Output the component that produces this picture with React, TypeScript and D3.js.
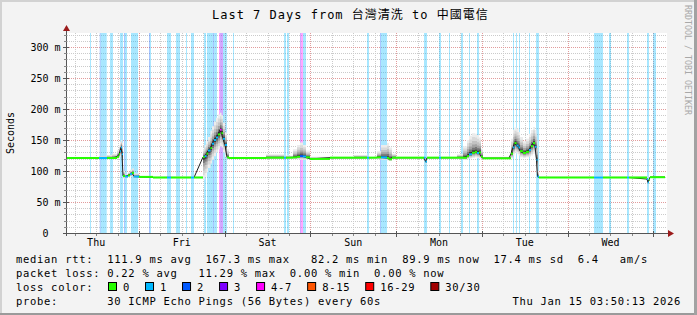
import React from 'react';
import * as d3 from 'd3';

// ---------- data ----------
const TITLE = 'Last 7 Days from 台灣清洗 to 中國電信';
const DAY_LABELS = ['Thu', 'Fri', 'Sat', 'Sun', 'Mon', 'Tue', 'Wed'];
const Y_TICKS = [0, 50, 100, 150, 200, 250, 300];
const Y_MAX = 322.6;
const SPAN_HOURS = 168;
const FIRST_MIDNIGHT = 20.163; // hours from Thu 03:50:13 to Fri 00:00

const LOSS_COLORS = ['#26ff00', '#00b8ff', '#0059ff', '#7e00ff', '#ff00fe', '#ff5500', '#ff0000', '#a10000'];
const LOSS_LABELS = ['0', '1', '2', '3', '4-7', '8-15', '16-29', '30/30'];

// median series (hours from start, ms), loss class index, smoke extents (ms)
const HOURS = [0, 8.96, 11.2, 12.6, 14.0, 14.56, 14.84, 15.12, 15.4, 15.68, 16.24, 17.08, 17.64, 18.2, 18.76, 20.16, 24.08, 28.0, 29.12, 34.72, 35.56,
  38.08, 38.56, 39.06, 39.48, 40.18, 40.6, 41.16, 41.72, 42.28, 42.84, 43.26, 43.68, 44.24, 44.8, 45.36, 55.72, 60.76, 61.32, 63.28, 64.4,
  65.24, 66.08, 66.92, 68.04, 73.64, 80.36, 84.0, 84.56, 86.8, 87.92, 89.6, 90.16, 91.0, 92.12, 99.96, 100.38, 100.8, 104.16, 104.72, 109.2,
  110.88, 112.0, 112.56, 113.4, 114.24, 114.8, 115.36, 115.92, 116.48, 123.76, 124.32, 124.88, 125.3, 125.86, 126.42, 126.84, 127.68, 128.52,
  129.36, 129.92, 130.48, 131.04, 131.46, 131.74, 132.16, 147.56, 150.08, 156.8, 157.36, 162.4, 162.68, 162.96, 163.24, 167.44];
const MEDIAN = [121, 121, 121, 121, 123, 127, 132, 138, 127, 92, 91, 93, 95, 97, 91, 90.5, 89.5, 89.5, 89.5, 89.5, 89.5,
  122.5, 124, 128, 133, 137, 144, 150, 154, 159, 166.5, 161, 152, 142, 122, 121, 121.5, 121.5, 121.5, 122, 123,
  124, 123.5, 122, 119.5, 121.5, 121.5, 121.5, 121.5, 122, 122, 121, 119, 121.5, 121.5, 121.5, 115, 121.5, 121.5, 121.5, 121.5,
  121.5, 124, 127, 129.5, 131, 129, 130, 123, 120.5, 120.5, 128, 138, 145, 141, 138, 132, 129, 131,
  134, 140, 145, 139, 118, 91, 89.5, 89.5, 89.5, 89.5, 89.5, 87, 81.5, 86, 90, 90];
const LOSS = [0, 1, 0, 0, 0, 0, 1, 1, 1, 0, 1, 0, 1, 0, 1, 0, 0, 1, 0, 1, 0,
  0, 1, 0, 1, 0, 1, 1, 1, 0, 4, 0, 1, 1, 0, 0, 0, 1, 0, 0, 0,
  2, 1, 0, 0, 0, 0, 1, 0, 0, 1, 0, 0, 0, 0, 1, 1, 0, 1, 0, 0,
  0, 0, 1, 0, 0, 1, 0, 0, 0, 0, 0, 1, 0, 1, 1, 0, 0, 0,
  1, 0, 0, 1, 1, 1, 0, 1, 0, 1, 0, 1, 1, 0, 0, 0];
const SMOKE_HI = [122, 124, 126, 128, 134, 141, 147, 150, 146, 100, 95, 98, 102, 104, 96, 92, 91, 92, 91, 91, 91,
  135, 142, 148, 155, 165, 172, 180, 186, 191, 194, 190, 178, 162, 135, 122.5, 127, 124, 125, 135, 142,
  146, 142, 133, 123, 123, 126, 124, 123, 132, 142, 145, 138, 128, 123, 123, 121, 123, 123, 123, 127,
  140, 150, 157, 161, 160, 158, 154, 136, 123, 125, 152, 166, 170, 168, 163, 155, 148, 152,
  160, 166, 171, 166, 150, 100, 91, 91, 91, 91, 91, 90, 86, 89, 91, 91];
const SMOKE_LO = [120, 120, 120, 119, 120, 121, 123, 126, 105, 88, 89, 90, 91, 92, 89, 89, 88.5, 88.5, 88.5, 88.5, 88.5,
  86, 90, 98, 105, 112, 118, 124, 130, 135, 140, 138, 130, 122, 119, 120, 120, 120, 120, 119, 119,
  118, 118, 119, 118.5, 120, 120, 120, 120, 119, 118, 117, 116, 119, 120, 119, 112, 120, 120, 120, 120,
  118, 119, 120, 121, 122, 121, 120, 119, 119, 119, 120, 125, 130, 128, 125, 122, 121, 122,
  123, 125, 128, 122, 95, 89, 89, 88.5, 88.5, 88.5, 88.5, 84, 80, 84, 89, 89];

// loss background bars: [start hour, end hour, loss class]
const LOSS_BARS: [number, number, number][] = [
  [6.44, 6.72, 1], [9.16, 9.44, 2], [9.44, 11.12, 1], [12.04, 12.88, 1], [14.84, 15.68, 1], [15.96, 16.24, 2], [16.24, 16.8, 1],
  [17.92, 19.88, 1], [22.96, 23.24, 2], [23.24, 23.52, 1], [28.0, 29.12, 1], [30.52, 31.64, 1], [33.32, 33.6, 1], [34.72, 35.56, 1],
  [38.36, 38.92, 1], [39.2, 40.88, 1], [40.88, 41.16, 2], [41.16, 42.0, 1], [42.56, 42.84, 4], [42.84, 43.68, 3], [43.68, 44.8, 1],
  [46.48, 46.76, 1], [60.76, 61.32, 1], [61.6, 62.16, 1], [65.24, 65.52, 3], [65.52, 66.08, 4], [66.08, 66.92, 1], [84.0, 84.56, 1],
  [87.64, 87.92, 2], [87.92, 89.6, 1], [99.96, 100.8, 1], [104.16, 104.72, 1], [106.96, 107.24, 1], [110.32, 110.88, 1],
  [112.56, 112.84, 1], [114.8, 115.36, 1], [124.88, 125.16, 1], [125.72, 126.0, 1], [126.56, 126.84, 1], [129.36, 129.64, 1],
  [131.32, 132.16, 1], [147.56, 150.08, 1], [151.76, 152.32, 1], [156.8, 157.36, 1], [162.4, 162.96, 1], [164.08, 164.92, 1],
];

const LEGEND_RTT = 'median rtt:  111.9 ms avg  167.3 ms max   82.2 ms min  89.9 ms now  17.4 ms sd  6.4   am/s';
const LEGEND_LOSS = 'packet loss: 0.22 % avg   11.29 % max  0.00 % min  0.00 % now';
const LEGEND_COLOR = 'loss color:';
const LEGEND_PROBE = 'probe:       30 ICMP Echo Pings (56 Bytes) every 60s';
const STAMP = 'Thu Jan 15 03:50:13 2026';
const WATERMARK = 'RRDTOOL / TOBI OETIKER';

// ---------- layout / style ----------
const W = 697, H = 315;
const PL = 67, PR = 667, PT = 33, PB = 233;
const MONO = "'DejaVu Sans Mono', monospace";
const TITLE_FONT = "'DejaVu Sans Mono', 'Noto Sans CJK TC', monospace";
const SMOKE_FRACTIONS = [1, 0.8, 0.6, 0.42, 0.26, 0.12];
const SMOKE_SHADES = ['#ececec', '#d9d9d9', '#c2c2c2', '#a3a3a3', '#767676', '#3a3a3a'];

export default function App() {
  const x = d3.scaleLinear().domain([0, SPAN_HOURS]).range([PL, PR]);
  const y = d3.scaleLinear().domain([0, Y_MAX]).range([PB, PT]);
  const cr = (v: number) => Math.round(v) + 0.5;

  const idx = d3.range(HOURS.length);
  const hMinor = d3.range(10, Y_MAX, 10).filter((v) => v % 50 !== 0);
  const hMajor = Y_TICKS.filter((v) => v > 0);
  const vMinor = d3.range(FIRST_MIDNIGHT - 18, SPAN_HOURS, 6).filter((h) => h > 0 && Math.abs(((h - FIRST_MIDNIGHT) % 24 + 24) % 24) > 0.01);
  const vMajor = d3.range(FIRST_MIDNIGHT, SPAN_HOURS, 24);
  const noons = d3.range(FIRST_MIDNIGHT - 12, SPAN_HOURS, 24);

  const smokePaths = SMOKE_FRACTIONS.map((f) =>
    d3.area<number>()
      .x((i) => x(HOURS[i]))
      .y0((i) => y(MEDIAN[i] - (MEDIAN[i] - SMOKE_LO[i]) * f))
      .y1((i) => y(MEDIAN[i] + (SMOKE_HI[i] - MEDIAN[i]) * f))
      .curve(d3.curveStepAfter)(idx) as string
  );
  const medianLine = d3.line<number>().x((i) => x(HOURS[i])).y((i) => y(MEDIAN[i])).curve(d3.curveLinear)(idx) as string;

  // legend boxes
  const boxX: number[] = [];
  let bx = 108;
  LOSS_LABELS.forEach((l) => { boxX.push(bx); bx += 8 + 7 + l.length * 7.02 + 15; });

  const legendStyle: React.CSSProperties = { fontFamily: MONO, fontSize: 10.5, letterSpacing: '0.7px', whiteSpace: 'pre' };

  return (
    <svg width={W} height={H} style={{ position: 'fixed', left: 0, top: 0, display: 'block' }} xmlns="http://www.w3.org/2000/svg">
      <style>{'body{margin:0;overflow:hidden}'}</style>
      <rect x={0} y={0} width={W} height={H} fill="#f3f3f3" />
      {/* frame */}
      <rect x={0} y={0} width={W} height={2} fill="#d2d2d2" />
      <rect x={0} y={0} width={2} height={H} fill="#d2d2d2" />
      <rect x={0} y={H - 2} width={W} height={2} fill="#9a9a9a" />
      <rect x={W - 3} y={0} width={3} height={H} fill="#a2a2a2" />

      {/* canvas */}
      <rect x={PL} y={PT} width={PR - PL} height={PB - PT} fill="#ffffff" />

      {/* grid */}
      <g strokeWidth={1} strokeDasharray="1,1" fill="none">
        {hMinor.map((v) => <line key={'hm' + v} x1={PL} x2={PR} y1={cr(y(v))} y2={cr(y(v))} stroke="#cbcbcb" />)}
        {vMinor.map((h) => <line key={'vm' + h} x1={cr(x(h))} x2={cr(x(h))} y1={PT} y2={PB} stroke="#cbcbcb" />)}
        {hMajor.map((v) => <line key={'hM' + v} x1={PL} x2={PR} y1={cr(y(v))} y2={cr(y(v))} stroke="#e29c9c" />)}
        {vMajor.map((h) => <line key={'vM' + h} x1={cr(x(h))} x2={cr(x(h))} y1={PT} y2={PB} stroke="#e29c9c" />)}
      </g>

      {/* loss bars */}
      <g>
        {LOSS_BARS.map(([s, e, c], i) => (
          <rect key={'lb' + i} x={x(s)} y={PT} width={Math.max(1, x(e) - x(s))} height={PB - PT} fill={LOSS_COLORS[c]} fillOpacity={0.34} />
        ))}
      </g>

      {/* smoke */}
      <g>
        {smokePaths.map((d, k) => <path key={'sm' + k} d={d} fill={SMOKE_SHADES[k]} />)}
      </g>

      {/* median */}
      <path d={medianLine} fill="none" stroke="#1e1e1e" strokeWidth={1} />
      <g>
        {idx.slice(0, -1).map((i) => (
          <rect key={'md' + i} x={x(HOURS[i])} y={y(MEDIAN[i]) - 1} width={x(HOURS[i + 1]) - x(HOURS[i])} height={2} fill={LOSS_COLORS[LOSS[i]]} />
        ))}
      </g>

      {/* axes */}
      <g stroke="#555" strokeWidth={1}>
        <line x1={PL - 0.5} x2={PL - 0.5} y1={PB + 3} y2={29} />
        <line x1={PL - 4} x2={669} y1={PB + 0.5} y2={PB + 0.5} />
        {hMinor.map((v) => <line key={'yt' + v} x1={PL - 3} x2={PL} y1={cr(y(v))} y2={cr(y(v))} stroke="#888" />)}
        {hMajor.map((v) => <line key={'yT' + v} x1={PL - 4} x2={PL + 2} y1={cr(y(v))} y2={cr(y(v))} />)}
        {vMinor.map((h) => <line key={'xt' + h} x1={cr(x(h))} x2={cr(x(h))} y1={PB + 1} y2={PB + 3} stroke="#888" />)}
        {vMajor.map((h) => <line key={'xT' + h} x1={cr(x(h))} x2={cr(x(h))} y1={PB - 2} y2={PB + 4} />)}
      </g>
      <path d={`M${PL - 4},${31} L${PL + 3},${31} L${PL - 0.5},${25} Z`} fill="#9b1b1b" />
      <path d={`M${668},${PB - 3} L${668},${PB + 4} L${674},${PB + 0.5} Z`} fill="#9b1b1b" />

      {/* y labels */}
      <g style={{ fontFamily: MONO, fontSize: 10 }} fill="#000">
        {Y_TICKS.map((v) => (
          <g key={'yl' + v}>
            <text x={48.5} y={y(v) + 3.6} textAnchor="end">{v}</text>
            {v > 0 && <text x={54.5} y={y(v) + 3.6}>m</text>}
          </g>
        ))}
        {noons.map((h, i) => (
          <text key={'xl' + i} x={x(h)} y={246} textAnchor="middle">{DAY_LABELS[i]}</text>
        ))}
        <text transform="translate(14,133) rotate(-90)" textAnchor="middle">Seconds</text>
      </g>

      {/* title */}
      <text x={212} y={19} style={{ fontFamily: TITLE_FONT, fontSize: 12, letterSpacing: '1px', whiteSpace: 'pre' }} fill="#000">{TITLE}</text>

      {/* watermark */}
      <text transform="translate(685,5) rotate(90)" textLength={110} lengthAdjust="spacingAndGlyphs" style={{ fontFamily: MONO, fontSize: 9 }} fill="#a8a8a8">{WATERMARK}</text>

      {/* legend */}
      <g fill="#000">
        <text x={16} y={263} style={legendStyle} xmlSpace="preserve">{LEGEND_RTT}</text>
        <text x={16} y={277} style={legendStyle} xmlSpace="preserve">{LEGEND_LOSS}</text>
        <text x={16} y={291} style={legendStyle} xmlSpace="preserve">{LEGEND_COLOR}</text>
        {LOSS_LABELS.map((l, i) => (
          <g key={'lg' + i}>
            <rect x={boxX[i] + 0.5} y={282.5} width={8} height={8} fill={LOSS_COLORS[i]} stroke="#000" strokeWidth={1} />
            <text x={boxX[i] + 15} y={291} style={legendStyle}>{l}</text>
          </g>
        ))}
        <text x={16} y={305} style={legendStyle} xmlSpace="preserve">{LEGEND_PROBE}</text>
        <text x={681} y={305} textAnchor="end" style={legendStyle}>{STAMP}</text>
      </g>
    </svg>
  );
}
